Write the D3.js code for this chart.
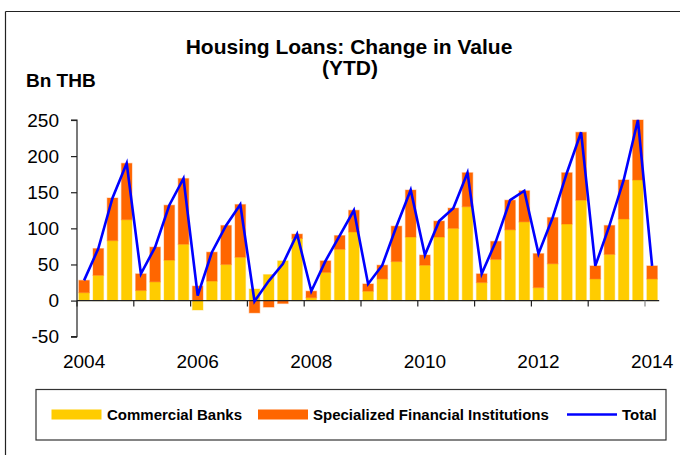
<!DOCTYPE html>
<html>
<head>
<meta charset="utf-8">
<script src="https://cdn.jsdelivr.net/npm/d3@7"></script>
<style>
  html, body { margin: 0; padding: 0; background: #fff; }
  svg { display: block; font-family: "Liberation Sans", Arial, Helvetica, sans-serif; }
</style>
</head>
<body>
<svg id="chart" width="680" height="455"></svg>
<script>
const categories = [
  "2004Q1","2004Q2","2004Q3","2004Q4","2005Q1","2005Q2","2005Q3","2005Q4",
  "2006Q1","2006Q2","2006Q3","2006Q4","2007Q1","2007Q2","2007Q3","2007Q4",
  "2008Q1","2008Q2","2008Q3","2008Q4","2009Q1","2009Q2","2009Q3","2009Q4",
  "2010Q1","2010Q2","2010Q3","2010Q4","2011Q1","2011Q2","2011Q3","2011Q4",
  "2012Q1","2012Q2","2012Q3","2012Q4","2013Q1","2013Q2","2013Q3","2013Q4",
  "2014Q1"
];
const commercialBanks = [
  11, 35, 83, 112, 14, 26, 56, 78,
  -13, 27, 50, 60, 16, 36, 55, 86,
  4, 39, 71, 95, 13, 30, 54, 88,
  49, 88, 100, 130, 25, 57, 98, 109,
  18, 51, 106, 139, 30, 64, 113, 167,
  30
];
const specializedFI = [
  17, 37, 59, 78, 23, 48, 76, 91,
  20, 40, 54, 73, -17, -9, -4, 6,
  9, 16, 19, 30, 10, 19, 49, 65,
  14, 22, 28, 47, 12, 25, 41, 43,
  47, 64, 71, 94, 18, 40, 54, 83,
  18
];
const total = [
  28, 72, 142, 190, 37, 74, 132, 169,
  7, 67, 104, 133, -1, 27, 51, 92,
  13, 55, 90, 125, 23, 49, 103, 153,
  63, 110, 128, 177, 37, 82, 139, 152,
  65, 115, 177, 233, 48, 104, 167, 250,
  48
];
const yTicks = [-50, 0, 50, 100, 150, 200, 250];
const xLabels = ["2004", "2006", "2008", "2010", "2012", "2014"];
const seriesNames = ["Commercial Banks", "Specialized Financial Institutions", "Total"];

const svg = d3.select("#chart");
const colors = { cb: "#FFCC00", sfi: "#FF6600", total: "#0000FF" };

// outer frame
svg.append("line").attr("x1", 5.5).attr("x2", 680).attr("y1", 11.5).attr("y2", 11.5)
  .attr("stroke", "#222").attr("stroke-width", 1.2);
svg.append("line").attr("x1", 5.5).attr("x2", 5.5).attr("y1", 11.5).attr("y2", 455)
  .attr("stroke", "#222").attr("stroke-width", 1.2);

const x = d3.scaleBand().domain(categories).range([77, 659.2]).paddingInner(0.26).paddingOuter(0.13);
const step = x.step();
const x0 = 77;
const y = d3.scaleLinear().domain([-50, 250]).range([336.7, 120]);

// data table for stack
const table = categories.map((c, i) => ({ cat: c, cb: commercialBanks[i], sfi: specializedFI[i] }));
const stack = d3.stack().keys(["cb", "sfi"]).offset(d3.stackOffsetDiverging);
const layers = stack(table);

const g = svg.append("g");
layers.forEach(layer => {
  g.selectAll(null).data(layer).enter().append("rect")
    .attr("x", d => x(d.data.cat))
    .attr("width", x.bandwidth())
    .attr("y", d => y(Math.max(d[0], d[1])))
    .attr("height", d => Math.abs(y(d[0]) - y(d[1])))
    .attr("fill", colors[layer.key])
    .attr("stroke", colors[layer.key])
    .attr("stroke-opacity", 0.35)
    .attr("stroke-width", 1.2);
});

// y axis
const yAxis = d3.axisLeft(y).tickValues(yTicks).tickSize(6).tickPadding(12).tickFormat(d => String(d));
const ya = svg.append("g").attr("transform", "translate(77,0)").call(yAxis);
ya.select(".domain").attr("stroke", "#222").attr("stroke-width", 1.2).attr("d", `M-6,${y(250)}H0V${y(-50)}H-6`);
ya.selectAll(".tick line").attr("stroke", "#222").attr("stroke-width", 1.2);
ya.selectAll(".tick text").attr("font-size", 19).attr("fill", "#000")
  .attr("font-family", "'Liberation Sans', Arial, sans-serif");

// x axis at zero
const y0 = y(0);
svg.append("line").attr("x1", 77).attr("x2", 659.2).attr("y1", y0).attr("y2", y0)
  .attr("stroke", "#222").attr("stroke-width", 1.2);
const tickIdx = d3.range(0, categories.length + 1, 4);
svg.selectAll(".xt").data(tickIdx).enter().append("line")
  .attr("x1", i => x0 + i * step).attr("x2", i => x0 + i * step)
  .attr("y1", y0).attr("y2", y0 + 6)
  .attr("stroke", d => d === 40 ? "#888" : "#222").attr("stroke-width", 1.2);
svg.selectAll(".xl").data(xLabels).enter().append("text")
  .attr("x", d => x(d + "Q1") + x.bandwidth() / 2)
  .attr("y", 367.5)
  .attr("text-anchor", "middle")
  .attr("font-size", 19)
  .text(d => d);

// total line
const line = d3.line().x((d, i) => x(categories[i]) + x.bandwidth() / 2).y(d => y(d));
svg.append("path").datum(total).attr("d", line)
  .attr("fill", "none").attr("stroke", colors.total).attr("stroke-width", 2.6)
  .attr("stroke-linejoin", "miter");

// titles
svg.append("text").attr("x", 349).attr("y", 54).attr("text-anchor", "middle")
  .attr("font-size", 21).attr("font-weight", "bold").text("Housing Loans: Change in Value");
svg.append("text").attr("x", 350).attr("y", 75).attr("text-anchor", "middle")
  .attr("font-size", 21).attr("font-weight", "bold").text("(YTD)");
svg.append("text").attr("x", 26).attr("y", 87).attr("font-size", 19).attr("font-weight", "bold").text("Bn THB");

// legend
svg.append("rect").attr("x", 36).attr("y", 389.5).attr("width", 630).attr("height", 50.5)
  .attr("fill", "#fff").attr("stroke", "#333").attr("stroke-width", 1.2);
const leg = svg.append("g").attr("font-size", 15).attr("font-weight", "bold");
leg.append("rect").attr("x", 51.5).attr("y", 409.5).attr("width", 50).attr("height", 10).attr("fill", colors.cb);
leg.append("text").attr("x", 107).attr("y", 420).text(seriesNames[0]);
leg.append("rect").attr("x", 258).attr("y", 409.5).attr("width", 50).attr("height", 10).attr("fill", colors.sfi);
leg.append("text").attr("x", 313).attr("y", 420).text(seriesNames[1]);
leg.append("line").attr("x1", 567).attr("x2", 617).attr("y1", 414.5).attr("y2", 414.5)
  .attr("stroke", colors.total).attr("stroke-width", 2.6);
leg.append("text").attr("x", 622).attr("y", 420).text(seriesNames[2]);
</script>
</body>
</html>
